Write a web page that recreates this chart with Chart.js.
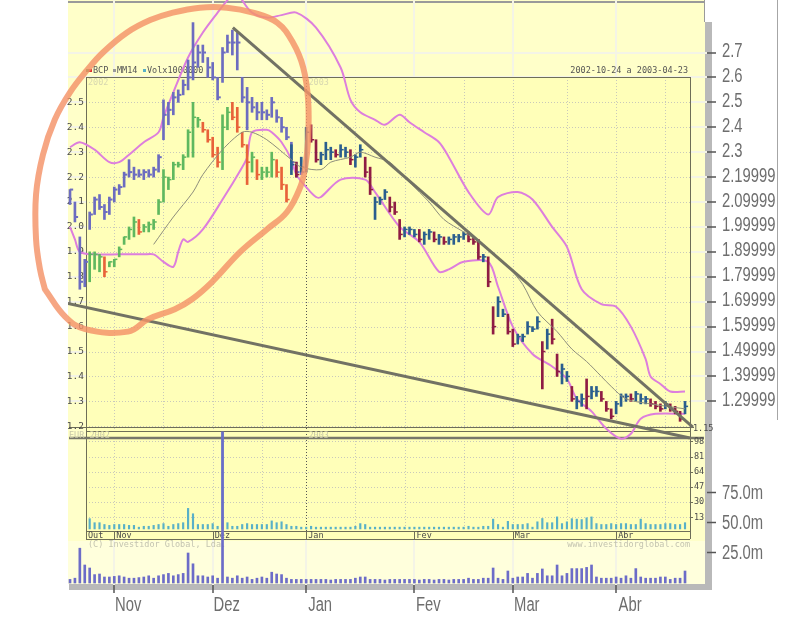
<!DOCTYPE html>
<html>
<head>
<meta charset="utf-8">
<script src="https://cdn.jsdelivr.net/npm/chart.js@4.4.1/dist/chart.umd.min.js"></script>
<style>
  html, body { margin: 0; padding: 0; background: #fff; }
  canvas { display: block; }
</style>
</head>
<body>
<canvas id="chart" width="802" height="627"></canvas>
<script>
// ---- axes / labels ----
const monthStarts = [9, 29, 48, 70, 90, 111];          // trading-day index of first session of month
const monthNames = ['Nov', 'Dez', 'Jan', 'Fev', 'Mar', 'Abr'];
const innerFirstMonth = 'Out';
const priceTicks = [1.3, 1.4, 1.5, 1.6, 1.7, 1.8, 1.9, 2.0, 2.1, 2.2, 2.3, 2.4, 2.5, 2.6, 2.7];
const priceTickLabels = ['1.29999', '1.39999', '1.49999', '1.59999', '1.69999', '1.79999', '1.89999',
  '1.99999', '2.09999', '2.19999', '2.3', '2.4', '2.5', '2.6', '2.7'];
const volTicks = [25, 50, 75];
const volTickLabels = ['25.0m', '50.0m', '75.0m'];
const innerPriceTicks = [1.2, 1.3, 1.4, 1.5, 1.6, 1.7, 1.8, 1.9, 2.0, 2.1, 2.2, 2.3, 2.4, 2.5];
const innerVolTicks = [13, 30, 47, 64, 81, 98];
const innerGridIdx = [9, 19, 29, 39, 58, 68, 80, 90, 101, 111, 121];
const janIdx = 48;

// ---- outer chart: BCP bars Oct 21 - Dec 31 (index 0..47) ----
const outerLow = [2.09, 2.02, 1.75, 1.76, 1.99, 2.05, 2.07, 2.03, 2.05, 2.10,
  2.13, 2.16, 2.20, 2.19, 2.20, 2.19, 2.20, 2.20, 2.22, 2.35,
  2.41, 2.45, 2.50, 2.53, 2.55, 2.59, 2.64, 2.66, 2.60, 2.59,
  2.51, 2.58, 2.70, 2.69, 2.63, 2.50, 2.39, 2.46, 2.43, 2.43,
  2.43, 2.44, 2.42, 2.38, 2.35, 2.23, 2.20, 2.21];
const outerHigh = [2.15, 2.10, 1.96, 1.87, 2.06, 2.12, 2.13, 2.09, 2.12, 2.16,
  2.17, 2.22, 2.27, 2.24, 2.23, 2.23, 2.23, 2.24, 2.29, 2.51,
  2.50, 2.54, 2.55, 2.59, 2.67, 2.82, 2.73, 2.73, 2.68, 2.66,
  2.60, 2.72, 2.77, 2.79, 2.78, 2.60, 2.56, 2.52, 2.50, 2.50,
  2.47, 2.52, 2.47, 2.44, 2.40, 2.34, 2.26, 2.24];
const outerClose = [2.15, 2.04, 1.78, 1.86, 2.05, 2.11, 2.08, 2.06, 2.11, 2.15,
  2.16, 2.21, 2.22, 2.21, 2.21, 2.22, 2.21, 2.23, 2.28, 2.45,
  2.47, 2.52, 2.53, 2.57, 2.60, 2.66, 2.70, 2.70, 2.64, 2.60,
  2.52, 2.70, 2.74, 2.74, 2.74, 2.52, 2.50, 2.48, 2.46, 2.46,
  2.45, 2.50, 2.44, 2.40, 2.36, 2.26, 2.22, 2.22];

// ---- inner chart: BCP bars (index 0..125) ----
const innerLow = [null, null, null, null,
  1.78, 1.83, 1.82, 1.80, 1.84, 1.84, 1.88, 1.93, 1.95, 1.96, 1.97, 1.98, 1.98, 1.99, 2.05, 2.10,
  2.15, 2.19, 2.24, 2.23, 2.28, 2.28, 2.40, 2.38, 2.34, 2.28,
  2.24, 2.23, 2.39, 2.43, 2.38, 2.32, 2.17, 2.22, 2.19, 2.19,
  2.20, 2.20, 2.20, 2.15, 2.10, 2.21, 2.20, 2.22,
  2.22, 2.34, 2.26, 2.25, 2.27, 2.27, 2.28, 2.28, 2.28, 2.25,
  2.24, 2.28, 2.20, 2.13, 2.03, 2.09, 2.11, 2.06, 2.05, 1.95,
  1.96, 1.97, 1.96, 1.94, 1.93, 1.95, 1.94, 1.93, 1.93, 1.93,
  1.93, 1.94, 1.95, 1.94, 1.93, 1.87, 1.86, 1.76, 1.57, 1.64,
  1.64, 1.57, 1.52, 1.53, 1.54, 1.57, 1.58, 1.59, 1.35, 1.51,
  1.53, 1.40, 1.37, 1.38, 1.30, 1.27, 1.28, 1.27, 1.31, 1.32,
  1.30, 1.26, 1.23, 1.25, 1.28, 1.30, 1.30, 1.30, 1.29, 1.29,
  1.28, 1.27, 1.26, 1.27, 1.26, 1.25, 1.22, 1.25];
const innerHigh = [null, null, null, null,
  1.90, 1.90, 1.89, 1.88, 1.86, 1.87, 1.92, 1.96, 2.00, 2.04, 2.03, 2.01, 2.02, 2.03, 2.11, 2.23,
  2.20, 2.26, 2.26, 2.29, 2.39, 2.50, 2.44, 2.42, 2.39, 2.36,
  2.32, 2.45, 2.48, 2.50, 2.48, 2.38, 2.33, 2.30, 2.27, 2.24,
  2.24, 2.30, 2.27, 2.24, 2.17, 2.33, 2.26, 2.28,
  2.40, 2.41, 2.35, 2.30, 2.34, 2.32, 2.31, 2.33, 2.32, 2.31,
  2.29, 2.33, 2.28, 2.24, 2.12, 2.12, 2.15, 2.12, 2.10, 2.03,
  2.00, 2.00, 1.99, 1.99, 1.98, 1.99, 1.98, 1.97, 1.96, 1.96,
  1.97, 1.97, 1.98, 1.98, 1.96, 1.95, 1.89, 1.88, 1.68, 1.72,
  1.67, 1.65, 1.59, 1.57, 1.57, 1.62, 1.60, 1.64, 1.54, 1.59,
  1.63, 1.49, 1.45, 1.42, 1.36, 1.32, 1.33, 1.39, 1.36, 1.36,
  1.34, 1.30, 1.27, 1.30, 1.33, 1.33, 1.33, 1.34, 1.33, 1.32,
  1.31, 1.30, 1.29, 1.30, 1.29, 1.28, 1.26, 1.30];
const innerClose = [null, null, null, null,
  1.89, 1.89, 1.88, 1.82, 1.86, 1.87, 1.91, 1.96, 1.99, 2.02, 1.98, 2.00, 2.01, 2.02, 2.10, 2.20,
  2.19, 2.25, 2.25, 2.28, 2.38, 2.44, 2.43, 2.39, 2.35, 2.29,
  2.26, 2.40, 2.46, 2.44, 2.40, 2.33, 2.26, 2.28, 2.21, 2.22,
  2.22, 2.27, 2.22, 2.17, 2.11, 2.25, 2.21, 2.24,
  2.38, 2.35, 2.27, 2.29, 2.31, 2.30, 2.29, 2.31, 2.30, 2.27,
  2.28, 2.31, 2.22, 2.15, 2.10, 2.11, 2.14, 2.08, 2.06, 1.97,
  1.99, 1.99, 1.97, 1.95, 1.97, 1.98, 1.95, 1.96, 1.94, 1.95,
  1.96, 1.96, 1.97, 1.95, 1.94, 1.88, 1.88, 1.78, 1.60, 1.70,
  1.65, 1.58, 1.53, 1.56, 1.56, 1.60, 1.59, 1.62, 1.50, 1.57,
  1.55, 1.42, 1.43, 1.40, 1.31, 1.30, 1.31, 1.32, 1.34, 1.34,
  1.31, 1.27, 1.24, 1.29, 1.32, 1.32, 1.31, 1.33, 1.31, 1.31,
  1.29, 1.28, 1.27, 1.29, 1.27, 1.26, 1.23, 1.28];
// G = up (green), R = down (red), B = up (blue), M = down (maroon)
const innerDir = '----' + 'GGGRGGGGGGRGGGGG' + 'GGGGGGGRRR' + 'RGGRRRRGRG' + 'GGRRRBMB' +
  'BMMBBBMBBM' + 'BBMMBBBMMM' + 'BBBMBBMBMB' + 'BBBMMMBMMB' + 'BMMBBBBBMB' +
  'MMBBMBBMBB' + 'MMMBBBMBBB' + 'MMMBMMMB';

// ---- volumes ----
const outerVol = [3, 4, 29, 15, 12.5, 7, 7.5, 5, 5, 5.5,
  6, 5, 4, 4, 4.5, 5, 6, 4, 6, 7,
  8, 6, 7, 8, 25, 16, 6, 6, 5, 6,
  4, 126, 5, 4, 6, 4, 5, 3, 4, 5,
  4, 9, 7.5, 7, 4, 3, 3, 3, 3, 3,
  3, 3, 3, 2.5, 3, 3, 3, 3, 4, 5,
  5, 3, 3, 3, 2.5, 3, 3, 3, 3, 3,
  3, 2.5, 3, 3, 2.5, 3, 3, 2.5, 3, 3,
  3, 4, 3, 3, 4, 4, 12.5, 4, 3, 10,
  4, 5, 5, 8, 4, 8, 11.7, 6, 6, 15,
  6, 8, 12, 12, 12, 13, 15, 5, 4, 4,
  4, 5, 4, 6, 4, 12, 5, 4, 4, 4,
  5, 5, 3, 4, 4, 10];
const innerVol = [null, null, null, null, 11.5, 7, 7, 5, 4, 5,
  5, 5, 4, 4, 2, 3, 3, 4, 5, 6,
  3, 5, 6, 7, 23, 17, 5, 5, 5, 6,
  3, 108, 7, 3, 3, 5, 6, 5, 5, 5,
  5, 9, 7, 8, 5, 3, 3, 2, 2, 3,
  2, 2, 2, 2, 2, 2, 2, 2, 3, 6,
  5, 2, 2, 2, 2, 2, 2, 2, 2, 2,
  2, 2, 2, 2, 2, 2, 2, 2, 2, 2,
  2, 3, 2, 2, 3, 3, 11, 5, 2, 8.5,
  5, 5, 5, 6, 2, 8, 11.7, 7, 7, 13.5,
  6, 8, 11.5, 11, 10.5, 12.5, 13.5, 6, 5, 5,
  6, 5, 6, 6, 5, 5, 11, 6, 5, 5,
  5, 6, 6, 5, 5, 7];

// ---- bands, MM14, trend lines (day index / price) ----
const bandUpIdx = [0, 2, 5, 8, 10, 12, 15, 18, 19, 21, 24, 27, 30, 32, 34, 35, 37, 40, 43, 46,
  50, 55, 57, 59, 62, 64, 67, 69, 72, 75, 77, 81, 85, 87, 91, 94, 98, 101, 104, 108,
  111, 114, 117, 118, 120, 122, 125];
const bandUpVal = [2.32, 2.34, 2.31, 2.26, 2.26, 2.29, 2.34, 2.38, 2.44, 2.54, 2.68, 2.78, 2.86, 2.91, 2.95, 2.91, 2.86, 2.84, 2.85, 2.86,
  2.80, 2.64, 2.51, 2.46, 2.43, 2.41, 2.45, 2.42, 2.38, 2.34, 2.28, 2.14, 2.05, 2.12, 2.14, 2.11, 2.00, 1.92, 1.75, 1.69,
  1.68, 1.60, 1.47, 1.40, 1.37, 1.34, 1.34];
const bandLoIdx = [0, 1, 2, 5, 10, 15, 17, 19, 21, 22, 23, 24, 27, 31, 35, 36, 37, 40, 41, 43,
  45, 46, 48, 50, 51, 55, 60, 62, 67, 71, 75, 77, 80, 85, 87, 90, 94, 98, 101, 103,
  106, 109, 112, 114, 116, 119, 125];
const bandLoVal = [2.00, 1.95, 1.90, 1.89, 1.89, 1.89, 1.89, 1.86, 1.84, 1.90, 1.95, 1.94, 1.99, 2.11, 2.24, 2.28, 2.38, 2.39, 2.38, 2.34,
  2.27, 2.21, 2.16, 2.12, 2.12, 2.19, 2.19, 2.14, 2.00, 1.94, 1.82, 1.83, 1.86, 1.86, 1.76, 1.60, 1.49, 1.44, 1.39, 1.31,
  1.26, 1.19, 1.15, 1.17, 1.23, 1.25, 1.25];
const mmIdx = [17, 21, 25, 27, 31, 35, 37, 40, 45, 47, 51, 53, 57, 59, 62, 65, 68, 71, 73, 76,
  80, 84, 89, 92, 95, 99, 102, 105, 108, 110, 113, 118, 125];
const mmVal = [1.93, 2.04, 2.14, 2.21, 2.31, 2.38, 2.38, 2.35, 2.27, 2.24, 2.23, 2.26, 2.28, 2.30, 2.28, 2.26, 2.20, 2.14, 2.10, 2.03,
  1.98, 1.93, 1.84, 1.77, 1.66, 1.58, 1.51, 1.46, 1.40, 1.36, 1.31, 1.29, 1.27];
const trendAIdx = [33.1, 126.6];
const trendAVal = [2.80, 1.197];
const trendBIdx = [-1.0, 126.0];
const trendBVal = [1.695, 1.153];

// hand-drawn highlight (day index / price)
const circleIdx = [-5.1, -1.0, 3.1, 11.8, 15.9, 21.3, 24.8, 28.9, 34.6, 40.0, 44.1, 46.8, 47.8, 48.4, 48.4, 47.4, 45.3,
  42.1, 37.2, 31.9, 26.4, 20.9, 16.3, 11.6, 6.7, 3.5, 0, -3.1, -5.5, -6.9, -6.9, -6.1, -5.1];
const circleVal = [1.75, 1.64, 1.59, 1.58, 1.63, 1.67, 1.71, 1.78, 1.90, 1.99, 2.06, 2.16, 2.24, 2.35, 2.51, 2.64, 2.74,
  2.82, 2.86, 2.88, 2.88, 2.86, 2.83, 2.78, 2.70, 2.63, 2.54, 2.43, 2.29, 2.13, 1.95, 1.83, 1.75];

// ---- styling ----
const dirColor = { G: '#5fb85f', R: '#e8623a', B: '#2a5e8e', M: '#8e1c44' };
const AXIS_FONT = '20px "Liberation Sans", Arial, sans-serif';
const AXIS_SQUEEZE = 0.74;   // outer axis font is a narrow face
const MONO = '"DejaVu Sans Mono", "Liberation Mono", monospace';
const INNER = { left: 86, right: 690, top: 77, priceBottom: 432, volTop: 438, volBottom: 531, stripBottom: 539 };

const pts = (xs, ys) => xs.map((x, k) => ({ x: x, y: ys[k] }));

const innerBars = [], innerBarColors = [], innerTicks = [], innerTickColors = [];
innerLow.forEach((lo, i) => {
  if (lo == null) return;
  const col = dirColor[innerDir[i]];
  innerBars.push({ x: i, y: [lo, innerHigh[i]] });
  innerBarColors.push(col);
  innerTicks.push({ x: i + 0.3, y: innerClose[i] });
  innerTickColors.push(col);
});

const backdrop = {
  id: 'backdrop',
  beforeDraw(chart) {
    const c = chart.ctx, a = chart.chartArea;
    c.save();
    c.fillStyle = '#ffffff';
    c.fillRect(0, 0, chart.width, chart.height);
    c.fillStyle = '#b9b9b9';
    c.fillRect(a.right - 2, 22, 7, a.bottom + 5 - 22);
    c.fillRect(a.left + 1, a.bottom - 1, a.right - a.left + 4, 6);
    c.fillStyle = '#ffffc9';
    c.fillRect(a.left, a.top, a.right - a.left - 2, a.bottom - a.top - 1);
    c.fillStyle = '#ffffdc';
    c.fillRect(a.left, 541, a.right - a.left - 2, a.bottom - 542);
    c.fillStyle = '#9a9a9a';
    c.fillRect(a.left, 1, a.right - a.left - 2, 2);
    c.fillRect(a.right - 3, 0, 1, 22);
    c.fillStyle = '#a6a6a6';
    c.fillRect(777, 0, 1, 420);
    c.restore();
  }
};

const innerPanel = {
  id: 'innerPanel',
  beforeDatasetsDraw(chart) {
    const c = chart.ctx, sx = chart.scales.x, sy = chart.scales.y, sv = chart.scales.yiv;
    const I = INNER;
    const ln = (x1, y1, x2, y2) => { c.beginPath(); c.moveTo(x1, y1); c.lineTo(x2, y2); c.stroke(); };
    const txt = (s, x, y, font, color, align) => {
      c.font = font; c.fillStyle = color; c.textAlign = align || 'left'; c.textBaseline = 'middle';
      c.fillText(s, x, y);
    };
    c.save();
    c.fillStyle = '#ffffb9';
    c.fillRect(I.left, I.top, I.right - I.left, I.stripBottom - I.top);

    // dotted grid
    c.strokeStyle = '#c9c9bb'; c.lineWidth = 1; c.setLineDash([1, 2]);
    innerPriceTicks.forEach(v => {
      const y = Math.round(sy.getPixelForValue(v)) + 0.5;
      ln(I.left, y, I.right, y);
    });
    innerVolTicks.forEach(v => {
      const y = Math.round(sv.getPixelForValue(v)) + 0.5;
      ln(I.left, y, I.right, y);
    });
    innerGridIdx.forEach(i => {
      const x = Math.round(sx.getPixelForValue(i)) + 0.5;
      ln(x, I.top, x, I.priceBottom);
      ln(x, I.volTop, x, I.volBottom);
    });
    c.strokeStyle = '#555';
    const xj = Math.round(sx.getPixelForValue(janIdx)) + 0.5;
    ln(xj, I.top, xj, I.stripBottom);
    c.setLineDash([]);

    // frames
    c.strokeStyle = '#6e6e58'; c.lineWidth = 1;
    ln(I.left, I.top + 0.5, I.right, I.top + 0.5);
    ln(I.left + 0.5, I.top, I.left + 0.5, I.stripBottom);
    ln(I.right + 0.5, I.top, I.right + 0.5, I.stripBottom);
    const y12 = Math.round(sy.getPixelForValue(1.2)) + 1.5;
    ln(69, y12, 694, y12);
    ln(I.left, I.priceBottom - 0.5, I.right, I.priceBottom - 0.5);
    ln(I.left, I.volBottom + 0.5, I.right, I.volBottom + 0.5);
    ln(I.left, I.stripBottom + 0.5, I.right, I.stripBottom + 0.5);
    c.lineWidth = 2.5; c.strokeStyle = '#77776a';
    ln(69, I.volTop, 704, I.volTop);
    c.lineWidth = 1; c.strokeStyle = '#6e6e58';
    monthStarts.forEach(i => {
      const x = Math.round(sx.getPixelForValue(i)) + 0.5;
      ln(x, I.volBottom, x, I.stripBottom);
    });

    // axis texts
    const f = '9.5px ' + MONO, fs = '8.5px ' + MONO;
    innerPriceTicks.forEach(v => txt(v.toFixed(1), 84, sy.getPixelForValue(v), f, '#4a4a4a', 'right'));
    txt('1.15', 693, 429, fs, '#4a4a4a');
    innerVolTicks.forEach(v => {
      const y = sv.getPixelForValue(v);
      ln(I.right, Math.round(y) + 0.5, I.right + 3, Math.round(y) + 0.5);
      txt(String(v), I.right + 4, y, fs, '#4a4a4a');
    });
    txt(innerFirstMonth, I.left + 2, 535.5, fs, '#4a4a4a');
    monthStarts.forEach((i, k) => txt(monthNames[k], sx.getPixelForValue(i) + 2, 535.5, fs, '#4a4a4a'));

    // watermark texts
    txt('2002', I.left + 2, 83, fs, '#d8d8b0');
    txt('2003', xj + 2, 83, fs, '#d8d8b0');
    txt('EUR 2002', 69, 435.5, fs, '#c8c8a8');
    txt('2003', xj + 2, 435.5, fs, '#c8c8a8');
    txt('(C) Investidor Global, Lda.', I.left + 2, 545, fs, '#c4c4b0');
    txt('www.investidorglobal.com', I.right, 545, fs, '#c4c4b0', 'right');

    // legend + period
    c.fillStyle = '#4a9a4a'; c.fillRect(86, 69, 3, 3);
    c.fillStyle = '#e03030'; c.fillRect(89, 69, 3, 3);
    txt('BCP', 93, 71, fs, '#555');
    c.fillStyle = '#9a9a9a'; c.fillRect(113, 69, 3, 3);
    txt('MM14', 117, 71, fs, '#555');
    c.fillStyle = '#58b0c8'; c.fillRect(143, 69, 3, 3);
    txt('Volx1000000', 147, 71, fs, '#555');
    txt('2002-10-24 a 2003-04-23', 688, 71, fs, '#555', 'right');
    c.restore();
  }
};

// outer axis labels in a narrow face, positioned by the chart's own scales
const axisLabels = {
  id: 'axisLabels',
  afterDraw(chart) {
    const c = chart.ctx, sx = chart.scales.x, sy = chart.scales.y, sv = chart.scales.yv;
    const put = (s, x, y, align) => {
      c.save(); c.translate(x, y); c.scale(AXIS_SQUEEZE, 1);
      c.textAlign = align; c.fillText(s, 0, 0); c.restore();
    };
    c.save();
    c.font = AXIS_FONT; c.fillStyle = '#6e6e6e'; c.textBaseline = 'middle';
    priceTicks.forEach((v, k) => put(priceTickLabels[k], 722, sy.getPixelForValue(v) - 1, 'left'));
    volTicks.forEach((v, k) => put(volTickLabels[k], 722, sv.getPixelForValue(v), 'left'));
    monthStarts.forEach((i, k) => put(monthNames[k], sx.getPixelForValue(i) + 14, 605, 'center'));
    c.restore();
  }
};

const line = (xs, ys, color, width, extra) => Object.assign({
  type: 'line', data: pts(xs, ys), borderColor: color, borderWidth: width,
  pointRadius: 0, fill: false, tension: 0.3
}, extra || {});

const chart = new Chart(document.getElementById('chart').getContext('2d'), {
  type: 'bar',
  data: {
    datasets: [
      { type: 'bar', yAxisID: 'yv', data: outerVol.map((v, i) => ({ x: i, y: v })),
        backgroundColor: '#6c6cc8', barThickness: 2, grouped: false, order: 10 },
      { type: 'bar', yAxisID: 'yiv', data: innerVol.map((v, i) => ({ x: i, y: v })).filter(p => p.y != null),
        backgroundColor: '#58b0c8', barThickness: 1.5, grouped: false, order: 10 },
      line(bandUpIdx, bandUpVal, '#dd7edd', 2, { order: 9 }),
      line(bandLoIdx, bandLoVal, '#dd7edd', 2, { order: 9 }),
      { type: 'bar', data: outerLow.map((lo, i) => ({ x: i, y: [lo, outerHigh[i]] })),
        backgroundColor: '#6c6cc0', barThickness: 2, grouped: false, order: 8 },
      { type: 'line', showLine: false, data: outerClose.map((v, i) => ({ x: i + 0.3, y: v })),
        pointStyle: 'line', pointRadius: 1.7, pointBorderWidth: 2, pointBorderColor: '#6c6cc0', order: 7 },
      { type: 'bar', data: innerBars, backgroundColor: innerBarColors,
        barThickness: 2, grouped: false, order: 6 },
      { type: 'line', showLine: false, data: innerTicks, pointStyle: 'line', pointRadius: 1.6,
        pointBorderWidth: 1.5, pointBorderColor: innerTickColors, order: 5 },
      line(mmIdx, mmVal, '#8e8e7c', 1, { order: 4 }),
      line(trendAIdx, trendAVal, '#727264', 3, { order: 3, tension: 0 }),
      line(trendBIdx, trendBVal, '#727264', 3, { order: 3, tension: 0 }),
      line(circleIdx, circleVal, 'rgba(244,146,104,0.82)', 6,
        { order: 1, tension: 0.4, clip: false, capBezierPoints: false, borderCapStyle: 'round', borderJoinStyle: 'round' })
    ]
  },
  options: {
    responsive: false,
    animation: false,
    events: [],
    layout: { padding: { left: 68, top: 0, right: 0, bottom: 0 }, autoPadding: false },
    plugins: { legend: { display: false }, tooltip: { enabled: false } },
    scales: {
      x: {
        type: 'linear', min: -0.4065, max: 129.47, offset: false,
        afterBuildTicks: s => { s.ticks = monthStarts.map(v => ({ value: v })); },
        afterFit: s => { s.height = 42; s.paddingLeft = 0; s.paddingRight = 0; },
        grid: { color: '#f4f4e6', lineWidth: 2, offset: false, tickColor: '#555', tickLength: 8, tickWidth: 1.5 },
        border: { display: false },
        ticks: { display: false, autoSkip: false, maxRotation: 0 }
      },
      y: {
        type: 'linear', position: 'right', weight: 1, min: 0.5632, max: 2.9107, beginAtZero: false,
        afterBuildTicks: s => { s.ticks = priceTicks.map(v => ({ value: v })); },
        afterFit: s => { s.width = 95; s.paddingTop = 0; s.paddingBottom = 0; },
        grid: { color: '#f4f4e6', lineWidth: 2, tickColor: '#555', tickLength: 9, tickWidth: 1.5 },
        border: { display: false },
        ticks: { display: false, autoSkip: false }
      },
      yv: {
        type: 'linear', position: 'right', weight: 0, min: -1.667, max: 485.83, beginAtZero: false,
        afterBuildTicks: s => { s.ticks = volTicks.map(v => ({ value: v })); },
        afterFit: s => { s.width = 0; s.paddingTop = 0; s.paddingBottom = 0; },
        grid: { drawOnChartArea: false, tickColor: '#555', tickLength: 9, tickWidth: 1.5 },
        border: { display: false },
        ticks: { display: false, autoSkip: false }
      },
      yiv: { type: 'linear', display: false, min: -62.7, max: 591.7, beginAtZero: false }
    }
  },
  plugins: [backdrop, innerPanel, axisLabels]
});
</script>
</body>
</html>
